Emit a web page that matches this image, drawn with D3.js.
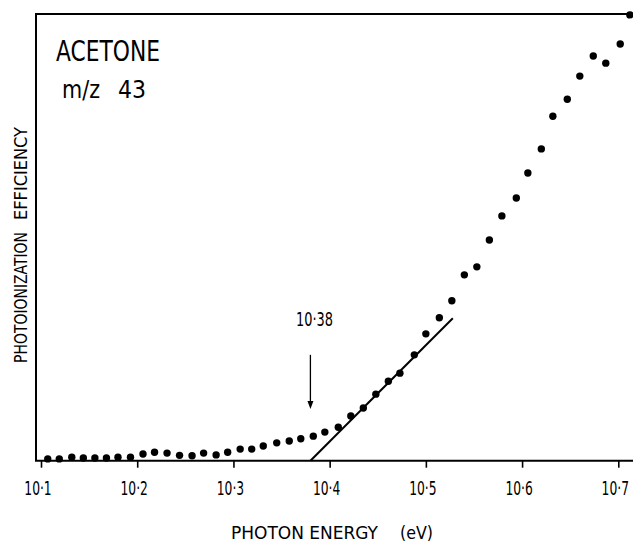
<!DOCTYPE html>
<html><head><meta charset="utf-8">
<script src="https://cdn.jsdelivr.net/npm/d3@7"></script>
<style>
html,body{margin:0;padding:0;background:#fff;}
text{font-family:"DejaVu Sans Condensed","Liberation Sans Narrow",sans-serif;fill:#000;}
</style></head>
<body>
<svg id="c" width="633" height="542"></svg>
<script>
// photon energy (eV)
const energy = [10.107,10.119,10.132,10.144,10.156,10.168,10.180,10.193,10.206,10.218,10.231,10.244,
  10.257,10.269,10.282,10.294,10.307,10.319,10.331,10.345,10.358,10.370,10.383,10.395,10.409,10.422,
  10.435,10.448,10.461,10.473,10.488,10.500,10.514,10.527,10.540,10.553,10.566,10.579,10.594,10.606,
  10.620,10.632,10.647,10.660,10.674,10.687,10.702,10.712];
// photoionization efficiency (arb. units)
const efficiency = [0.4,0.4,0.8,0.6,0.6,0.6,0.8,0.8,1.5,1.9,1.7,1.2,
  1.1,1.7,1.3,1.9,2.6,2.6,3.3,4.0,4.4,4.9,5.5,6.4,7.5,10.0,
  11.8,14.9,17.8,19.6,23.7,28.4,32.0,35.8,41.6,43.4,49.4,54.8,58.8,64.4,
  69.8,77.1,80.9,86.1,90.6,89.0,93.3,99.8];
const xTicks = [10.1,10.2,10.3,10.4,10.5,10.6,10.7];
const fitLineE = [10.38, 10.528];
const fitLineY = [0, 31.9];
const arrowE = 10.38;
const arrowY = [23.7, 11.6];
const arrowLabel = "10·38";
const titleWords = ["ACETONE", "m/z", "43"];
const xTitleWords = ["PHOTON ENERGY", "(eV)"];
const yTitleWords = ["PHOTOIONIZATION", "EFFICIENCY"];

const svg = d3.select("#c");
const x = d3.scaleLinear().domain([10.1, 10.7]).range([41, 618.3]);
const y = d3.scaleLinear().domain([0, 100]).range([460.7, 14]);

// frame: left and top
svg.append("path").attr("d", "M36,461 L36,14 L633,14")
  .attr("fill","none").attr("stroke","#000").attr("stroke-width",2);

// x axis
const sx = 0.72;
const ax = svg.append("g").attr("transform","translate(0,460.7)")
  .call(d3.axisBottom(x).tickValues(xTicks).tickSize(7).tickSizeOuter(0)
    .tickFormat(d => d3.format(".1f")(d).replace(".", "·")));
ax.select(".domain").remove();
ax.append("line").attr("x1",35).attr("x2",633).attr("stroke","#000").attr("stroke-width",2);
ax.selectAll(".tick line").attr("stroke","#000").attr("stroke-width",1.6);
ax.selectAll(".tick text").attr("y",21).attr("dy","0.71em").attr("x", -3.5 / sx)
  .attr("transform", `scale(${sx},1)`)
  .style("font-size","19px").attr("fill","#000")
  .style("font-family","'DejaVu Sans Condensed','Liberation Sans Narrow',sans-serif");

// fit line
svg.append("line")
  .attr("x1", x(fitLineE[0])).attr("y1", y(fitLineY[0]))
  .attr("x2", x(fitLineE[1])).attr("y2", y(fitLineY[1]))
  .attr("stroke","#000").attr("stroke-width",2);

// points
svg.append("g").selectAll("circle").data(energy).join("circle")
  .attr("cx", d => x(d)).attr("cy", (d,i) => y(efficiency[i]))
  .attr("r", 3.7).attr("fill","#000");

// arrow
const ax0 = x(arrowE);
svg.append("line").attr("x1",ax0).attr("x2",ax0)
  .attr("y1",y(arrowY[0])).attr("y2",y(arrowY[1])-6)
  .attr("stroke","#000").attr("stroke-width",1.3);
svg.append("path")
  .attr("d",`M${ax0-3},${y(arrowY[1])-8} L${ax0+3},${y(arrowY[1])-8} L${ax0},${y(arrowY[1])} Z`)
  .attr("fill","#000");
svg.append("text").attr("x", 296).attr("y", 326)
  .style("font-size","19px").attr("textLength",37).attr("lengthAdjust","spacingAndGlyphs")
  .text(arrowLabel);

// title
svg.append("text").attr("x",56).attr("y",61).style("font-size","29px")
  .attr("textLength",104).attr("lengthAdjust","spacingAndGlyphs").text(titleWords[0]);
svg.append("text").attr("x",62).attr("y",98).style("font-size","25px")
  .attr("textLength",38).attr("lengthAdjust","spacingAndGlyphs").text(titleWords[1]);
svg.append("text").attr("x",118).attr("y",98).style("font-size","25px")
  .attr("textLength",28).attr("lengthAdjust","spacingAndGlyphs").text(titleWords[2]);

// axis titles
svg.append("text").attr("x",231).attr("y",539).style("font-size","18px")
  .attr("textLength",147).attr("lengthAdjust","spacingAndGlyphs").text(xTitleWords[0]);
svg.append("text").attr("x",400).attr("y",539).style("font-size","18px")
  .attr("textLength",33).attr("lengthAdjust","spacingAndGlyphs").text(xTitleWords[1]);
svg.append("text").attr("transform","translate(27,363) rotate(-90)")
  .style("font-size","17px").attr("textLength",131).attr("lengthAdjust","spacingAndGlyphs")
  .text(yTitleWords[0]);
svg.append("text").attr("transform","translate(27,220) rotate(-90)")
  .style("font-size","17px").attr("textLength",93).attr("lengthAdjust","spacingAndGlyphs")
  .text(yTitleWords[1]);
</script>
</body></html>
